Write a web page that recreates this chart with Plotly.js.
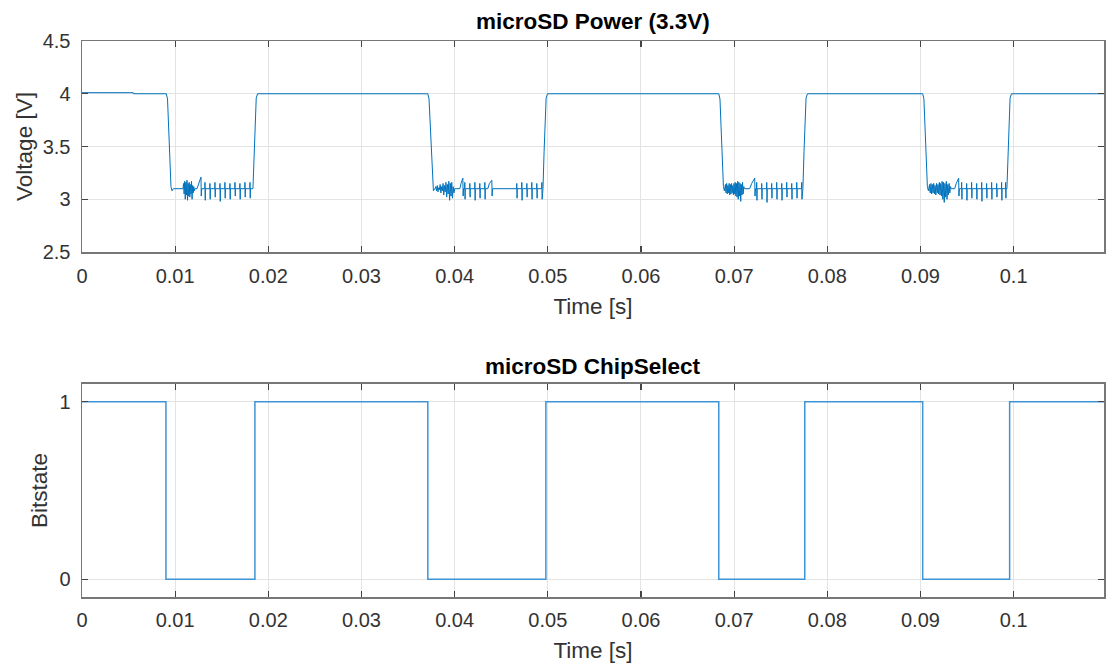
<!DOCTYPE html>
<html>
<head>
<meta charset="utf-8">
<script src="https://cdn.plot.ly/plotly-3.0.1.min.js"></script>
<style>html,body{margin:0;padding:0;background:#fff;}#chart{width:1106px;height:670px;}</style>
</head>
<body>
<div id="chart"></div>
<script>
// ---------- Voltage: main envelope (time s, volts) ----------
const envT = [0, 0.0055, 0.00552,
  0.00905, 0.00918, 0.0093, 0.00942, 0.00955, 0.00966, 0.0098,
  0.01835, 0.01848, 0.01858, 0.0187, 0.01885,
  0.03712, 0.03725, 0.03738, 0.0375, 0.03762, 0.03772, 0.03785,
  0.04948, 0.0496, 0.0497, 0.04982, 0.04997,
  0.06835, 0.06848, 0.0686, 0.06872, 0.06885, 0.06895, 0.06908,
  0.07738, 0.0775, 0.0776, 0.07772, 0.07787,
  0.09024, 0.09037, 0.0905, 0.09062, 0.09074, 0.09085, 0.09098,
  0.09928, 0.0994, 0.0995, 0.09962, 0.09977,
  0.1098];
const envV = [4.01, 4.01, 4.0,
  4.0, 3.95, 3.7, 3.35, 3.12, 3.08, 3.1,
  3.1, 3.45, 3.8, 3.96, 4.0,
  4.0, 3.95, 3.7, 3.35, 3.12, 3.08, 3.1,
  3.1, 3.45, 3.8, 3.96, 4.0,
  4.0, 3.95, 3.7, 3.35, 3.12, 3.08, 3.1,
  3.1, 3.45, 3.8, 3.96, 4.0,
  4.0, 3.95, 3.7, 3.35, 3.12, 3.08, 3.1,
  3.1, 3.45, 3.8, 3.96, 4.0,
  4.0];

// ---------- Noise bursts after each drop ----------
const burstStart = [0.01084, 0.0379, 0.0690, 0.0909];
const burstEnd   = [0.01212, 0.0400, 0.0711, 0.0933];
const burst1 = [3.1, 3.15, 3.05, 3.17, 3.0, 3.16, 3.04, 3.18, 2.99, 3.15, 3.03, 3.16, 3.02, 3.14, 3.05, 3.17, 3.0, 3.13, 3.06, 3.12, 3.08, 3.1];
const burst2 = [3.1, 3.12, 3.08, 3.13, 3.07, 3.11, 3.09, 3.14, 3.06, 3.12, 3.08, 3.15, 3.04, 3.13, 3.07, 3.16, 3.02, 3.14, 3.05, 3.17, 2.99, 3.15, 3.03, 3.16, 3.01, 3.12, 3.06, 3.1];
const burst3 = [3.1, 3.14, 3.06, 3.15, 3.05, 3.13, 3.06, 3.15, 3.04, 3.14, 3.05, 3.15, 3.06, 3.13, 3.04, 3.15, 3.05, 3.16, 3.03, 3.15, 3.02, 3.17, 3.0, 3.16, 3.03, 3.15, 2.98, 3.14, 3.04, 3.16, 3.05, 3.12, 3.1];
const burst4 = [3.1, 3.14, 3.06, 3.15, 3.05, 3.14, 3.06, 3.15, 3.05, 3.13, 3.04, 3.15, 3.06, 3.14, 3.05, 3.16, 3.04, 3.15, 3.03, 3.17, 3.0, 3.16, 2.97, 3.15, 3.02, 3.17, 3.0, 3.14, 3.04, 3.15, 3.06, 3.12, 3.1];
const bursts = [burst1, burst2, burst3, burst4];

// ---------- Saw-like humps (start, peak time, peak volts) ----------
const humpStart = [0.01234, 0.04056, 0.04356, 0.07167, 0.09367];
const humpPeak  = [0.01277, 0.04088, 0.04399, 0.07221, 0.0941];
const humpTop   = [3.21, 3.2, 3.18, 3.2, 3.2];

// ---------- Comb spikes (time, high, low) ----------
const spikeT = [0.0132, 0.01373, 0.01427, 0.01481, 0.01534, 0.01588, 0.01642, 0.01695, 0.01749, 0.01803,
  0.04109, 0.04163, 0.04217, 0.0427, 0.04324,
  0.04667, 0.04721, 0.04775, 0.04828, 0.04882, 0.04936,
  0.07242, 0.07296, 0.0735, 0.07403, 0.07457, 0.07511, 0.07564, 0.07618, 0.07672, 0.07725,
  0.09442, 0.09496, 0.09549, 0.09603, 0.09657, 0.0971, 0.09764, 0.09818, 0.09871, 0.09914];
const spikeHi = [3.16, 3.15, 3.16, 3.15, 3.16, 3.15, 3.16, 3.15, 3.16, 3.16,
  3.16, 3.15, 3.16, 3.15, 3.16,
  3.15, 3.16, 3.15, 3.16, 3.15, 3.16,
  3.16, 3.15, 3.16, 3.15, 3.16, 3.15, 3.16, 3.15, 3.16, 3.16,
  3.16, 3.15, 3.16, 3.15, 3.16, 3.15, 3.16, 3.15, 3.16, 3.16];
const spikeLo = [2.99, 3.0, 3.02, 2.98, 3.01, 3.0, 3.03, 3.0, 3.02, 3.01,
  3.0, 3.02, 2.99, 3.01, 3.0,
  3.01, 2.99, 3.02, 3.0, 3.01, 3.0,
  2.99, 3.0, 2.97, 3.01, 3.0, 2.99, 3.02, 3.0, 3.01, 3.0,
  3.0, 2.99, 3.01, 3.0, 2.98, 3.01, 3.0, 3.02, 2.99, 3.01];

// ---------- ChipSelect transitions ----------
const csT = [0, 0.00901, 0.01856, 0.03712, 0.04979, 0.06835, 0.07758, 0.09024, 0.09957, 0.1098];
const csV = [1, 0, 1, 0, 1, 0, 1, 0, 1, 1];

// ---------- Ticks ----------
const xTickVals = [0, 0.01, 0.02, 0.03, 0.04, 0.05, 0.06, 0.07, 0.08, 0.09, 0.1];
const xTickText = ['0', '0.01', '0.02', '0.03', '0.04', '0.05', '0.06', '0.07', '0.08', '0.09', '0.1'];
const y1TickVals = [2.5, 3, 3.5, 4, 4.5];
const y1TickText = ['2.5', '3', '3.5', '4', '4.5'];
const y2TickVals = [0, 1];
const y2TickText = ['0', '1'];

// ---------- Assemble voltage polyline ----------
const pts = [];
for (let i = 0; i < envT.length; i++) pts.push([envT[i], envV[i]]);
bursts.forEach((b, k) => {
  const dt = (burstEnd[k] - burstStart[k]) / (b.length - 1);
  b.forEach((v, j) => pts.push([burstStart[k] + j * dt, v]));
});
for (let i = 0; i < humpStart.length; i++) {
  const s = humpStart[i], p = humpPeak[i];
  pts.push([s, 3.1], [s + 0.4 * (p - s), 3.15], [p, humpTop[i]], [p + 0.00003, 3.03], [p + 0.00008, 3.1]);
}
for (let i = 0; i < spikeT.length; i++) {
  const t = spikeT[i];
  pts.push([t - 0.00002, 3.1], [t, spikeHi[i]], [t + 0.00003, spikeLo[i]], [t + 0.00005, 3.1]);
}
pts.sort((a, b) => a[0] - b[0]);

const blue = '#0072BD';
const traces = [
  {x: pts.map(p => p[0]), y: pts.map(p => p[1]), type: 'scatter', mode: 'lines',
   line: {color: blue, width: 1}, xaxis: 'x', yaxis: 'y', hoverinfo: 'skip'},
  {x: csT, y: csV, type: 'scatter', mode: 'lines', line: {color: '#3f94d6', width: 1.5, shape: 'hv'},
   xaxis: 'x2', yaxis: 'y2', hoverinfo: 'skip'}
];

const FAM = 'Liberation Sans, Arial, sans-serif';
const tickFont = {family: FAM, size: 20, color: '#333333'};
const titleFont = {family: FAM, size: 22.5, color: '#333333'};
const axCommon = {
  showline: true, mirror: 'ticks', linecolor: '#777777', linewidth: 1.5,
  ticks: 'inside', ticklen: 6, tickcolor: '#444444', tickwidth: 1.2,
  showgrid: true, gridcolor: '#e3e3e3', gridwidth: 1, zeroline: false,
  tickfont: tickFont
};
const layout = {
  width: 1106, height: 670,
  margin: {l: 82, r: 2, t: 41, b: 73},
  paper_bgcolor: '#ffffff', plot_bgcolor: '#ffffff',
  showlegend: false,
  xaxis: Object.assign({}, axCommon, {domain: [0, 1], range: [0, 0.1097], anchor: 'y',
    tickvals: xTickVals, ticktext: xTickText, ticklabelstandoff: 5,
    title: {text: 'Time [s]', font: titleFont, standoff: 12}}),
  yaxis: Object.assign({}, axCommon, {domain: [0.6205, 1], range: [2.5, 4.5], anchor: 'x',
    tickvals: y1TickVals, ticktext: y1TickText, ticklabelstandoff: 6,
    title: {text: 'Voltage [V]', font: titleFont, standoff: 4}}),
  xaxis2: Object.assign({}, axCommon, {domain: [0, 1], range: [0, 0.1097], anchor: 'y2',
    tickvals: xTickVals, ticktext: xTickText, ticklabelstandoff: 4,
    title: {text: 'Time [s]', font: titleFont, standoff: 12}}),
  yaxis2: Object.assign({}, axCommon, {domain: [0, 0.3831], range: [-0.1, 1.1], anchor: 'x2',
    tickvals: y2TickVals, ticktext: y2TickText, ticklabelstandoff: 6,
    title: {text: 'Bitstate', font: titleFont, standoff: 5}}),
  annotations: [
    {text: '<b>microSD Power (3.3V)</b>', xref: 'paper', yref: 'paper', x: 0.5, y: 1, yshift: 5,
     xanchor: 'center', yanchor: 'bottom', showarrow: false,
     font: {family: FAM, size: 22.5, color: '#000000'}},
    {text: '<b>microSD ChipSelect</b>', xref: 'paper', yref: 'paper', x: 0.5, y: 0.3831, yshift: 3,
     xanchor: 'center', yanchor: 'bottom', showarrow: false,
     font: {family: FAM, size: 22.5, color: '#000000'}}
  ]
};
Plotly.newPlot('chart', traces, layout, {displayModeBar: false, staticPlot: true});
</script>
</body>
</html>
